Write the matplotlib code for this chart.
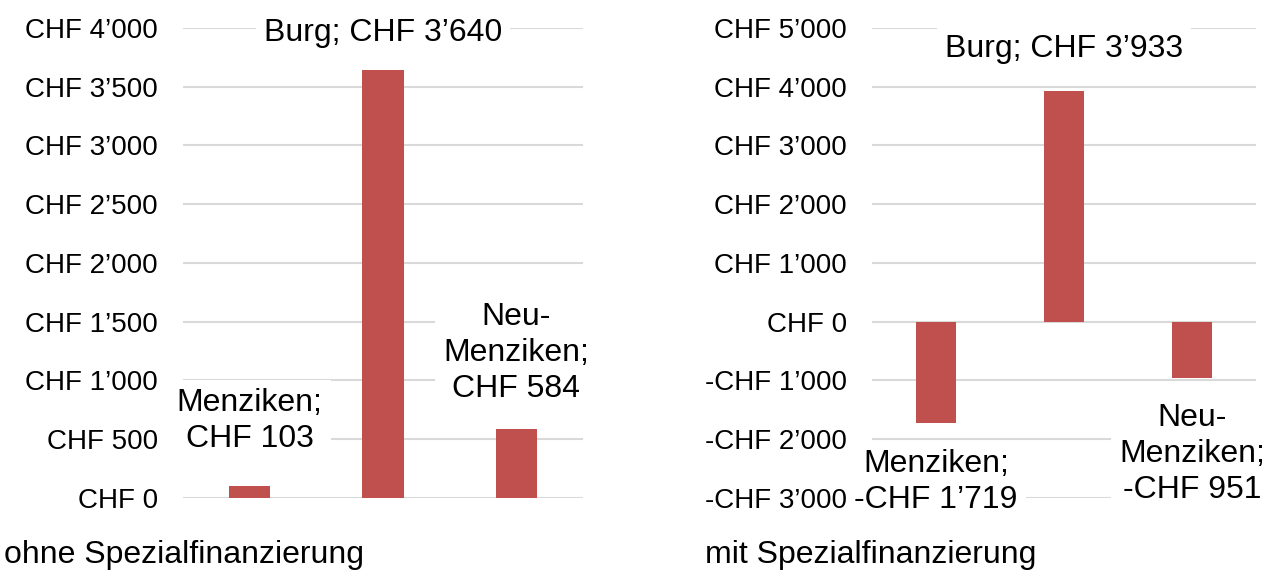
import matplotlib
matplotlib.use('Agg')
import matplotlib.pyplot as plt
from matplotlib.ticker import FuncFormatter

plt.rcParams['font.family'] = ['Liberation Sans', 'DejaVu Sans']

orte = ['Menziken', 'Burg', 'Neu-Menziken']
ohne_spez = [103, 3640, 584]
mit_spez = [-1719, 3933, -951]

bar_color = '#C0504D'
grid_color = '#D9D9D9'


def chf(v, pos=None):
    s = '{:,.0f}'.format(abs(v)).replace(',', '\u2019')
    return ('-CHF ' if v < 0 else 'CHF ') + s


def style_axis(ax, ylim, step):
    ax.set_ylim(*ylim)
    ax.set_xlim(-0.5, 2.5)
    ax.set_yticks(range(ylim[0], ylim[1] + 1, step))
    ax.yaxis.set_major_formatter(FuncFormatter(chf))
    ax.set_xticks([])
    for s in ax.spines.values():
        s.set_visible(False)
    ax.tick_params(axis='y', length=0, pad=18, labelsize=20)
    ax.grid(axis='y', color=grid_color, linewidth=1.5)
    ax.set_axisbelow(True)


box = dict(facecolor='white', edgecolor='none', pad=6)

fig = plt.figure(figsize=(12.74, 5.72), dpi=100)

# links: ohne Spezialfinanzierung
ax1 = fig.add_axes([0.1436, 0.1294, 0.314, 0.8217])
style_axis(ax1, (0, 4000), 500)
ax1.bar(range(3), ohne_spez, width=0.31, color=bar_color, zorder=2)
ax1.text(0, ohne_spez[0] + 550, orte[0] + ';\n' + chf(ohne_spez[0]), ha='center', va='center',
         fontsize=23, linespacing=1.25, bbox=box, zorder=3)
ax1.text(1, 3957, orte[1] + '; ' + chf(ohne_spez[1]), ha='center', va='center', fontsize=23,
         bbox=box, zorder=3)
ax1.text(2, ohne_spez[2] + 650, 'Neu-\nMenziken;\n' + chf(ohne_spez[2]), ha='center', va='center',
         fontsize=23, linespacing=1.25, bbox=box, zorder=3)

# rechts: mit Spezialfinanzierung
ax2 = fig.add_axes([0.6845, 0.1294, 0.3014, 0.8217])
style_axis(ax2, (-3000, 5000), 1000)
ax2.bar(range(3), mit_spez, width=0.31, color=bar_color, zorder=2)
ax2.text(0, -2730, orte[0] + ';\n' + chf(mit_spez[0]), ha='center', va='center',
         fontsize=23, linespacing=1.27, bbox=box, zorder=3)
ax2.text(1, 4650, orte[1] + '; ' + chf(mit_spez[1]), ha='center', va='center', fontsize=23,
         bbox=box, zorder=3)
ax2.text(2, -2250, 'Neu-\nMenziken;\n' + chf(mit_spez[2]), ha='center', va='center',
         fontsize=23, linespacing=1.25, bbox=box, zorder=3)

fig.text(0.003, 0.015, 'ohne Spezialfinanzierung', fontsize=23, ha='left', va='baseline')
fig.text(0.553, 0.015, 'mit Spezialfinanzierung', fontsize=23, ha='left', va='baseline')

fig.savefig('out.png', dpi=100, facecolor='white')
